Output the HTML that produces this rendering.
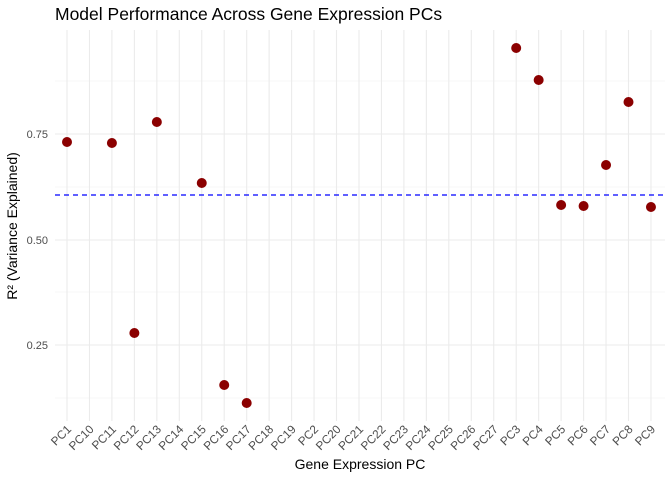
<!DOCTYPE html>
<html><head><style>body{margin:0;background:#fff}svg{display:block}text{font-family:"Liberation Sans",sans-serif}</style></head><body>
<svg width="672" height="480" viewBox="0 0 672 480" xmlns="http://www.w3.org/2000/svg">
<rect width="672" height="480" fill="#fff"/>
<g stroke="#f0f0f0" stroke-width="0.6">
<line x1="55" x2="665" y1="398" y2="398"/><line x1="55" x2="665" y1="292" y2="292"/><line x1="55" x2="665" y1="187" y2="187"/><line x1="55" x2="665" y1="81" y2="81"/>
</g>
<g stroke="#ebebeb" stroke-width="1.1">
<line x1="55" x2="665" y1="345" y2="345"/><line x1="55" x2="665" y1="240" y2="240"/><line x1="55" x2="665" y1="134" y2="134"/>
</g>
<g id="vg" stroke="#ebebeb" stroke-width="1.1"></g>
<line x1="55" x2="665" y1="195" y2="195" stroke="#0000ff" stroke-width="1.2" stroke-dasharray="5,4"/>
<g id="pts" fill="#8b0000"></g>
<g font-size="11" fill="#4d4d4d" text-anchor="end">
<text x="48" y="349">0.25</text><text x="48" y="244">0.50</text><text x="48" y="138">0.75</text>
</g>
<g id="xl" font-size="11.8" fill="#4d4d4d" text-anchor="end"></g>
<text x="360" y="469" font-size="14" text-anchor="middle" fill="#000">Gene Expression PC</text>
<text transform="translate(17,226) rotate(-90)" font-size="14" text-anchor="middle" fill="#000">R² (Variance Explained)</text>
<text x="55" y="20" font-size="17.5" fill="#000">Model Performance Across Gene Expression PCs</text>
<script>
var labs=["PC1","PC10","PC11","PC12","PC13","PC14","PC15","PC16","PC17","PC18","PC19","PC2","PC20","PC21","PC22","PC23","PC24","PC25","PC26","PC27","PC3","PC4","PC5","PC6","PC7","PC8","PC9"];
var ys={0:142,2:143,3:333,4:122,6:183,7:385,8:403,20:48,21:80,22:205,23:206,24:165,25:102,26:207};
var ns="http://www.w3.org/2000/svg",vg=document.getElementById("vg"),xl=document.getElementById("xl"),pts=document.getElementById("pts");
labs.forEach(function(l,i){var x=67+i*22.46;
var ln=document.createElementNS(ns,"line");ln.setAttribute("x1",x);ln.setAttribute("x2",x);ln.setAttribute("y1",30);ln.setAttribute("y2",421);vg.appendChild(ln);
var t=document.createElementNS(ns,"text");t.setAttribute("transform","translate("+(x+5)+",430) rotate(-45)");t.textContent=l;xl.appendChild(t);
if(ys[i]!==undefined){var c=document.createElementNS(ns,"circle");c.setAttribute("cx",x);c.setAttribute("cy",ys[i]);c.setAttribute("r",5);pts.appendChild(c);}
});
</script>
</svg>
</body></html>
